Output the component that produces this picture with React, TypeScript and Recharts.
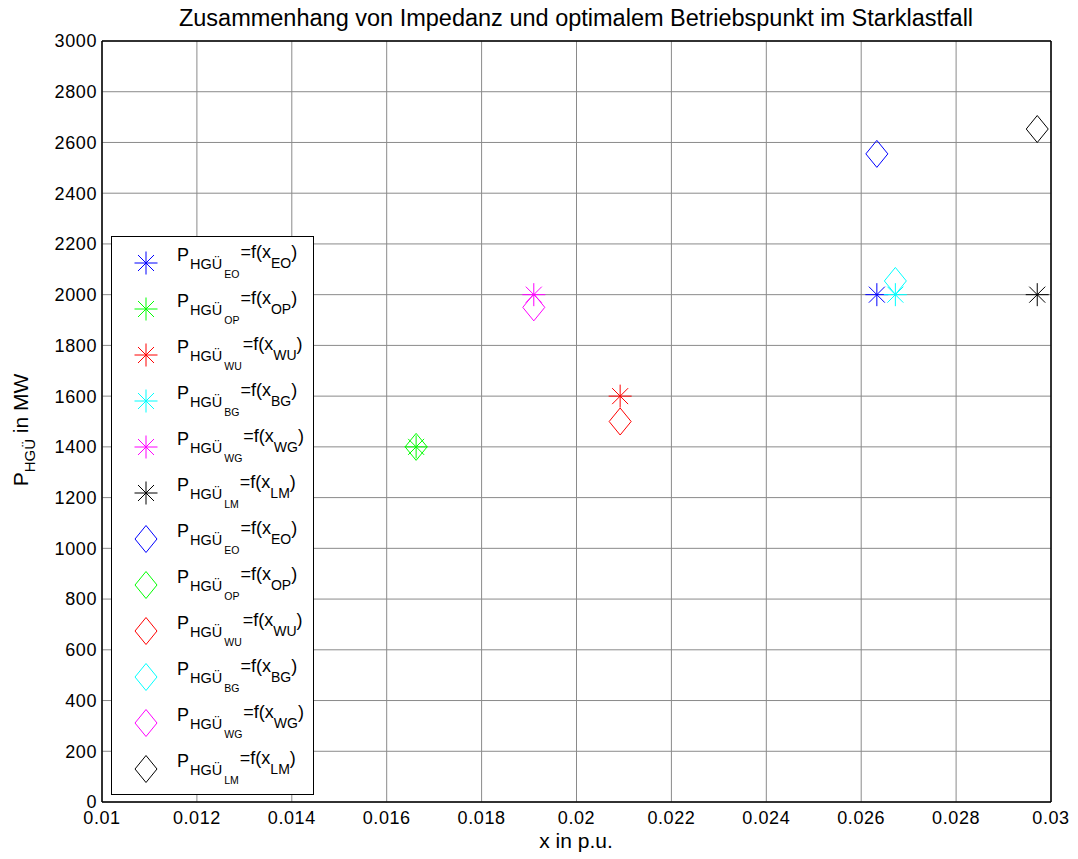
import { ScatterChart, Scatter, XAxis, YAxis, CartesianGrid, Legend } from 'recharts';

const regions = ['EO', 'OP', 'WU', 'BG', 'WG', 'LM'];
const colors = ['#0000ff', '#00ff00', '#ff0000', '#00ffff', '#ff00ff', '#000000'];
const xPu = [0.02633, 0.01662, 0.02092, 0.02672, 0.0191, 0.02971];
const pStar = [2000, 1400, 1600, 2000, 2000, 2000];
const pDiamond = [2555, 1400, 1500, 2054, 1950, 2653];

const xTicks = [0.01, 0.012, 0.014, 0.016, 0.018, 0.02, 0.022, 0.024, 0.026, 0.028, 0.03];
const yTicks = [0, 200, 400, 600, 800, 1000, 1200, 1400, 1600, 1800, 2000, 2200, 2400, 2600, 2800, 3000];

const font = '"Liberation Sans", Arial, sans-serif';
const tickStyle = { fontSize: 18, fill: '#000', letterSpacing: 0.6 };

function Star({ cx, cy, color }: { cx: number; cy: number; color: string }) {
  const r = 11.5;
  const d = 8;
  return (
    <g stroke={color} strokeWidth={1} fill="none">
      <line x1={cx - r} y1={cy} x2={cx + r} y2={cy} />
      <line x1={cx} y1={cy - r} x2={cx} y2={cy + r} />
      <line x1={cx - d} y1={cy - d} x2={cx + d} y2={cy + d} />
      <line x1={cx - d} y1={cy + d} x2={cx + d} y2={cy - d} />
    </g>
  );
}

function Diamond({ cx, cy, color }: { cx: number; cy: number; color: string }) {
  const w = 11;
  const h = 13.5;
  return (
    <path
      d={`M${cx},${cy - h}L${cx + w},${cy}L${cx},${cy + h}L${cx - w},${cy}Z`}
      stroke={color}
      strokeWidth={1}
      fill="none"
    />
  );
}

function LegendBox() {
  const rows: { kind: string; i: number }[] = [];
  regions.forEach((_, i) => rows.push({ kind: 'star', i }));
  regions.forEach((_, i) => rows.push({ kind: 'diamond', i }));
  return (
    <div style={{ width: 203, height: 559, boxSizing: 'border-box', border: '1px solid #000', background: '#fff' }}>
      <svg width={201} height={557} style={{ display: 'block', fontFamily: font }}>
        {rows.map((row, k) => {
          const cy = 26 + 46 * k;
          const color = colors[row.i];
          const r = regions[row.i];
          return (
            <g key={k}>
              {row.kind === 'star' ? <Star cx={34} cy={cy} color={color} /> : <Diamond cx={34} cy={cy} color={color} />}
              <text x={65} y={cy - 2} fill="#000">
                <tspan fontSize={18}>P</tspan>
                <tspan fontSize={14.5} dx={1} dy={8}>HGÜ</tspan>
                <tspan fontSize={10.5} dx={2} dy={9}>{r}</tspan>
                <tspan fontSize={18} dx={1} dy={-20}>=f(x</tspan>
                <tspan fontSize={14} dy={10}>{r}</tspan>
                <tspan fontSize={18} dy={-10}>)</tspan>
              </text>
            </g>
          );
        })}
      </svg>
    </div>
  );
}

const hideTick = () => <g />;

export default function App() {
  return (
    <div style={{ position: 'absolute', left: 0, top: 0, fontFamily: font, background: '#fff' }}>
      <ScatterChart width={1078} height={859} margin={{ top: 41, right: 27, bottom: 27, left: 42 }}>
        <CartesianGrid stroke="#8a8a8a" strokeWidth={1} />
        <XAxis
          dataKey="x"
          type="number"
          domain={[0.01, 0.03]}
          ticks={xTicks}
          interval={0}
          height={30}
          tickLine={false}
          tickSize={0}
          tickMargin={9}
          tick={tickStyle}
          axisLine={{ stroke: '#000', strokeWidth: 1.5 }}
        />
        <YAxis
          dataKey="y"
          type="number"
          domain={[0, 3000]}
          ticks={yTicks}
          interval={0}
          width={60}
          tickLine={false}
          tickSize={0}
          tickMargin={5}
          tick={tickStyle}
          axisLine={{ stroke: '#000', strokeWidth: 1.5 }}
        />
        <XAxis xAxisId="xb" type="number" domain={[0.01, 0.03]} ticks={xTicks} interval={0} mirror orientation="bottom"
          tick={hideTick} tickSize={8} tickLine={{ stroke: '#000' }} axisLine={false} />
        <XAxis xAxisId="xt" type="number" domain={[0.01, 0.03]} ticks={xTicks} interval={0} mirror orientation="top"
          tick={hideTick} tickSize={8} tickLine={{ stroke: '#000' }} axisLine={{ stroke: '#000', strokeWidth: 1.5 }} />
        <YAxis yAxisId="yl" type="number" domain={[0, 3000]} ticks={yTicks} interval={0} mirror orientation="left"
          tick={hideTick} tickSize={8} tickLine={{ stroke: '#000' }} axisLine={false} />
        <YAxis yAxisId="yr" type="number" domain={[0, 3000]} ticks={yTicks} interval={0} mirror orientation="right"
          tick={hideTick} tickSize={8} tickLine={{ stroke: '#000' }} axisLine={{ stroke: '#000', strokeWidth: 1.5 }} />
        {regions.map((r, i) => (
          <Scatter
            key={'s' + r}
            name={'star ' + r}
            data={[{ x: xPu[i], y: pStar[i] }]}
            fill={colors[i]}
            isAnimationActive={false}
            shape={(p: any) => <Star cx={p.cx} cy={p.cy} color={colors[i]} />}
          />
        ))}
        {regions.map((r, i) => (
          <Scatter
            key={'d' + r}
            name={'diamond ' + r}
            data={[{ x: xPu[i], y: pDiamond[i] }]}
            fill={colors[i]}
            isAnimationActive={false}
            shape={(p: any) => <Diamond cx={p.cx} cy={p.cy} color={colors[i]} />}
          />
        ))}
        <Legend
          layout="vertical"
          align="center"
          verticalAlign="middle"
          content={() => <LegendBox />}
          wrapperStyle={{ left: 111, top: 236, width: 203, height: 559 }}
        />
        <text x={576} y={26} textAnchor="middle" fontSize={23.5} fill="#000">
          Zusammenhang von Impedanz und optimalem Betriebspunkt im Starklastfall
        </text>
        <text x={576} y={848} textAnchor="middle" fontSize={21} fill="#000">
          x in p.u.
        </text>
        <text transform="translate(28,430) rotate(-90)" textAnchor="middle" fill="#000">
          <tspan fontSize={21}>P</tspan>
          <tspan fontSize={15} dy={7}>HGÜ</tspan>
          <tspan fontSize={21} dy={-7}> in MW</tspan>
        </text>
      </ScatterChart>
    </div>
  );
}
